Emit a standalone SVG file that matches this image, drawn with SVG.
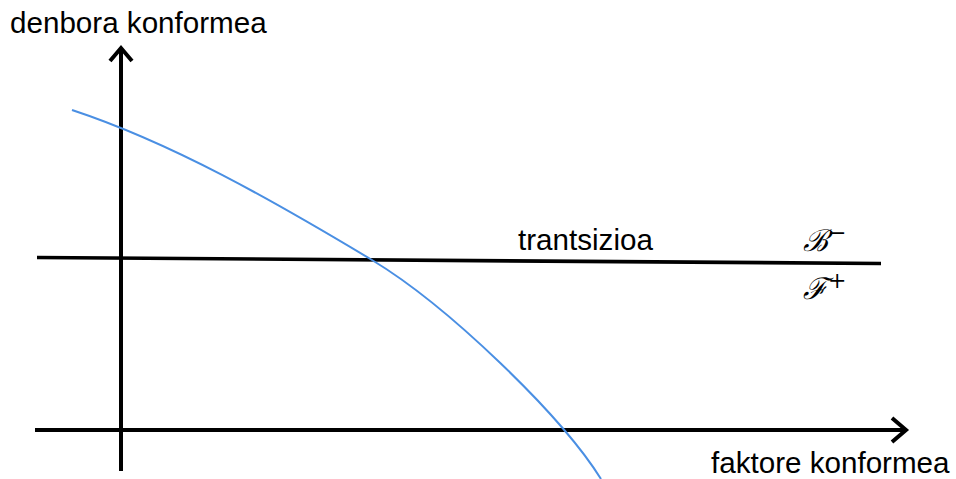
<svg xmlns="http://www.w3.org/2000/svg" width="956" height="479" viewBox="0 0 956 479">
<style>
.axis{stroke:#000;stroke-width:4;fill:none}
.head{stroke:#000;stroke-width:4;fill:none;stroke-linecap:butt;stroke-linejoin:miter}
.lbl{font-family:"Liberation Sans",Arial,sans-serif;font-size:29.6px;fill:#000}
.scr{font-family:"DejaVu Serif","Liberation Serif",serif;font-style:italic;font-size:30px;fill:#000}
</style>
<rect width="956" height="479" fill="#fff"/>
<g id="connectors">
<g id="y-axis">
<line class="axis" x1="121" y1="471" x2="121" y2="48"/>
<polyline class="head" points="110,61 121,48 132,61"/>
</g>
<g id="x-axis">
<line class="axis" x1="35" y1="430" x2="906" y2="430"/>
<polyline class="head" points="892,418 906,430 892,442"/>
</g>
<g id="transition-line">
<line class="axis" x1="37" y1="257.5" x2="881" y2="263.5" style="stroke-width:3.6"/>
</g>
<path id="curve" d="M72,110 C172,143 272,200 372,260 C448,306 561,415 601,479" fill="none" stroke="#4a8fe3" stroke-width="2"/>
</g>
<g id="labels">
<text class="lbl" x="10" y="33">denbora konformea</text>
<text class="lbl" x="711" y="472.5">faktore konformea</text>
<text class="lbl" x="518" y="250">trantsizioa</text>
<text class="scr" x="803" y="251">ℬ<tspan font-style="normal" font-size="22" dy="-11">−</tspan></text>
<text class="scr" x="803" y="299">ℱ<tspan font-style="normal" font-size="22" dy="-11">+</tspan></text>
</g>
</svg>
